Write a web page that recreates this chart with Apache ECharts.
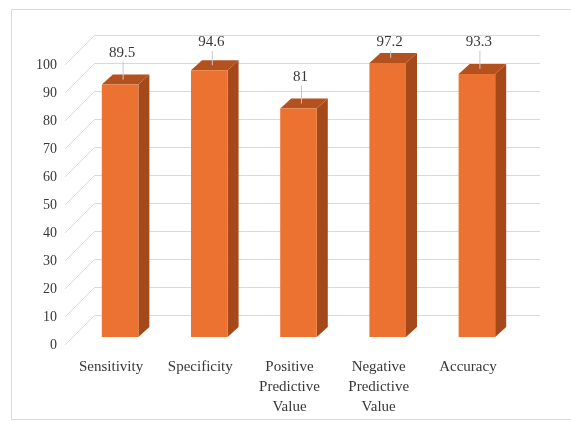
<!DOCTYPE html>
<html>
<head>
<meta charset="utf-8">
<script src="https://cdn.jsdelivr.net/npm/echarts@6/dist/echarts.min.js"></script>
<style>
  html, body { margin: 0; padding: 0; background: #fff; }
  #chart { width: 571px; height: 425px; }
</style>
</head>
<body>
<div id="chart"></div>
<script>
// chart data
var categories = ['Sensitivity', 'Specificity', 'Positive\nPredictive\nValue', 'Negative\nPredictive\nValue', 'Accuracy'];
var values = [89.5, 94.6, 81, 97.2, 93.3];
var yTicks = [0, 10, 20, 30, 40, 50, 60, 70, 80, 90, 100];

var chart = echarts.init(document.getElementById('chart'));

// 3d look
var depthX = 11, depthY = -10;
var wallX = 30, wallY = -30;
var serif = '"Liberation Serif", "DejaVu Serif", serif';

function renderBar(params, api) {
    var idx = api.value(0);
    var val = api.value(1);
    var top = api.coord([idx, val]);
    var base = api.coord([idx, 0]);
    var band = api.size([1, 0])[0];
    var w = band * 0.41;
    var xl = top[0] - w / 2, xr = top[0] + w / 2;
    var yt = top[1], yb = base[1];
    var labelY = Math.max(yt + depthY - 22, 42);
    return {
        type: 'group',
        children: [
            {
                type: 'polygon',
                shape: { points: [[xr, yt], [xr + depthX, yt + depthY], [xr + depthX, yb + depthY], [xr, yb]] },
                style: { fill: '#A5491A' }
            },
            {
                type: 'polygon',
                shape: { points: [[xl, yt], [xl + depthX, yt + depthY], [xr + depthX, yt + depthY], [xr, yt]] },
                style: { fill: '#B4521F' }
            },
            {
                type: 'rect',
                shape: { x: xl, y: yt, width: w, height: yb - yt },
                style: { fill: '#EC7231' }
            },
            {
                type: 'line',
                shape: { x1: top[0] + 3, y1: labelY + 9, x2: top[0] + 3, y2: yt + depthY / 2 },
                style: { stroke: '#c8c8c8', lineWidth: 1 }
            },
            {
                type: 'text',
                style: {
                    x: top[0] + 2, y: labelY, text: String(val),
                    align: 'center', verticalAlign: 'middle',
                    font: '15px ' + serif, fill: '#383838'
                }
            }
        ]
    };
}

function renderDiag(params, api) {
    var p = api.coord([0, api.value(1)]);
    return {
        type: 'line',
        shape: { x1: p[0], y1: p[1], x2: p[0] + wallX, y2: p[1] + wallY },
        style: { stroke: '#d9d9d9', lineWidth: 1 }
    };
}

var option = {
    backgroundColor: '#fff',
    animation: false,
    graphic: [{
        type: 'rect',
        shape: { x: 11.5, y: 9.5, width: 580, height: 410 },
        style: { fill: 'none', stroke: '#d9d9d9', lineWidth: 1 },
        silent: true,
        z: -10
    }],
    grid: [
        // back wall
        { left: 95, right: 31, top: 35, bottom: 110 },
        // front edge with the value labels
        { left: 65, right: 31, top: 65, bottom: 80 },
        // bars
        { left: 75.5, right: 49.5, top: 55, bottom: 88 },
        // category labels sit on the front floor edge, a bit left of the bars
        { left: 66.5, right: 58.5, top: 55, bottom: 88 }
    ],
    xAxis: [
        { gridIndex: 0, type: 'value', min: 0, max: 1, show: false },
        { gridIndex: 1, type: 'value', min: 0, max: 1, show: false },
        { gridIndex: 2, type: 'category', data: categories, show: false },
        {
            gridIndex: 3, type: 'category', data: categories,
            axisLine: { show: false }, axisTick: { show: false },
            axisLabel: {
                margin: 20, interval: 0, fontFamily: serif, fontSize: 15,
                lineHeight: 20, color: '#383838'
            }
        }
    ],
    yAxis: [
        {
            gridIndex: 0, type: 'value', min: 0, max: 100, interval: 10,
            axisLabel: { show: false }, axisLine: { show: false }, axisTick: { show: false },
            splitLine: { show: true, lineStyle: { color: '#d9d9d9' } }
        },
        {
            gridIndex: 1, type: 'value', min: 0, max: 100, interval: 10,
            axisLine: { show: false }, axisTick: { show: false }, splitLine: { show: false },
            axisLabel: { margin: 8, fontFamily: serif, fontSize: 14, color: '#383838' }
        },
        { gridIndex: 2, type: 'value', min: 0, max: 100, show: false },
        { gridIndex: 3, type: 'value', min: 0, max: 100, show: false }
    ],
    series: [
        {
            type: 'custom',
            xAxisIndex: 1, yAxisIndex: 1,
            data: yTicks.map(function (t) { return [0, t]; }),
            renderItem: renderDiag,
            silent: true
        },
        {
            type: 'custom',
            xAxisIndex: 2, yAxisIndex: 2,
            data: values.map(function (v, i) { return [i, v]; }),
            renderItem: renderBar,
            encode: { x: 0, y: 1 }
        }
    ]
};
chart.setOption(option);
</script>
</body>
</html>
